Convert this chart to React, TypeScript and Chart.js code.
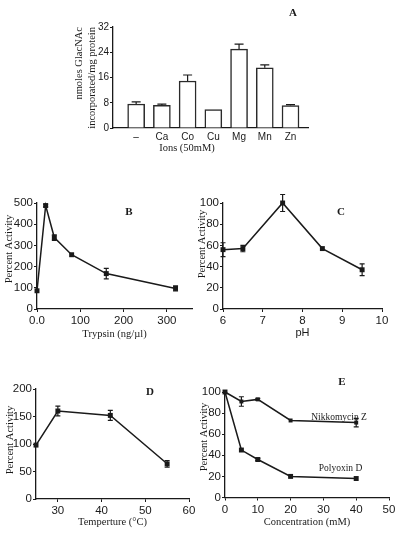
import React, { useEffect, useRef } from "react";
import { Chart, registerables } from "chart.js";

Chart.register(...registerables);

// ---------- Panel A: ions ----------
const ionCategories = ["–", "Ca", "Co", "Cu", "Mg", "Mn", "Zn"];
const ionValues = [7.6, 7.2, 14.9, 5.8, 25.0, 19.1, 7.1];
const ionErrors = [0.7, 0.35, 1.9, 0, 1.6, 0.9, 0.3];

// ---------- Panel B: trypsin ----------
const trypsinDose = [0, 20, 40, 80, 160, 320];
const trypsinActivity = [86, 488, 337, 256, 167, 97];
const trypsinErrors = [0, 6, 13, 0, 25, 12];
const trypsinXTicks = [0, 100, 200, 300];
const trypsinXTickLabels = ["0.0", "100", "200", "300"];

// ---------- Panel C: pH ----------
const phValues = [6, 6.5, 7.5, 8.5, 9.5];
const phActivity = [56, 57, 100, 57, 37];
const phErrors = [6.5, 3, 8, 0, 5.5];

// ---------- Panel D: temperature ----------
const temperatures = [25, 30, 42, 55];
const tempActivity = [98, 160, 152, 64];
const tempErrors = [0, 9, 9, 6];
const tempXTicks = [30, 40, 50, 60];

// ---------- Panel E: inhibitors ----------
const concentrations = [0, 5, 10, 20, 40];
const nikkomycinActivity = [100, 91, 93, 73, 71];
const nikkomycinErrors = [0, 4.5, 1, 0, 4];
const polyoxinActivity = [100, 45, 36, 20, 18];
const polyoxinErrors = [0, 0, 1, 0, 0];

const SANS = "'Liberation Sans', Arial, Helvetica, sans-serif";
const SERIF = "'Liberation Serif', 'Times New Roman', serif";
const INK = "#1a1a1a";

const errorBarPlugin = {
  id: "errorBars",
  afterDatasetsDraw(chart: any) {
    const ctx = chart.ctx;
    const yScale = chart.scales.y;
    chart.data.datasets.forEach((ds: any, di: number) => {
      const errs = ds.errors;
      if (!errs) return;
      const meta = chart.getDatasetMeta(di);
      meta.data.forEach((el: any, i: number) => {
        const e = errs[i];
        if (!e) return;
        const raw = ds.data[i];
        const v = typeof raw === "object" ? raw.y : raw;
        const yTop = yScale.getPixelForValue(v + e);
        const yBot = ds.errorUpOnly ? el.y : yScale.getPixelForValue(v - e);
        const cap = ds.errorCap ?? 2.5;
        ctx.save();
        ctx.strokeStyle = INK;
        ctx.lineWidth = 1.2;
        ctx.beginPath();
        ctx.moveTo(el.x, yTop);
        ctx.lineTo(el.x, yBot);
        ctx.moveTo(el.x - cap, yTop);
        ctx.lineTo(el.x + cap, yTop);
        if (!ds.errorUpOnly) {
          ctx.moveTo(el.x - cap, yBot);
          ctx.lineTo(el.x + cap, yBot);
        }
        ctx.stroke();
        ctx.restore();
      });
    });
  },
};

type TextItem = { text: string; x: number; y: number; font: string; align?: CanvasTextAlign; rotate?: boolean };

function makeTextPlugin(items: TextItem[]) {
  return {
    id: "panelText",
    afterDraw(chart: any) {
      const ctx = chart.ctx;
      items.forEach((it) => {
        ctx.save();
        ctx.font = it.font;
        ctx.fillStyle = INK;
        ctx.textAlign = it.align || "center";
        ctx.textBaseline = "middle";
        ctx.translate(it.x, it.y);
        if (it.rotate) ctx.rotate(-Math.PI / 2);
        ctx.fillText(it.text, 0, 0);
        ctx.restore();
      });
    },
  };
}

type Box = { left: number; top: number; width: number; height: number };
type Plot = { l: number; t: number; r: number; b: number };

function frame(c: Box, p: Plot) {
  return {
    yW: p.l - c.left,
    xH: c.top + c.height - p.b,
    padTop: p.t - c.top,
    padRight: c.left + c.width - p.r,
  };
}

function axisStyle(size: number, drawTicks = true, pad = 1) {
  return {
    grid: {
      display: true,
      drawOnChartArea: false,
      drawTicks,
      tickLength: 3,
      color: INK,
      tickWidth: 1,
      offset: false,
    },
    border: { display: true, color: INK, width: 1.3 },
    ticks: { color: INK, font: { family: SANS, size }, padding: pad },
  };
}

function lineDataset(xs: number[], ys: number[], errs: number[], radius = 3.5) {
  return {
    data: xs.map((x, i) => ({ x, y: ys[i] })),
    errors: errs,
    borderColor: INK,
    borderWidth: 1.5,
    pointStyle: "rect",
    pointRadius: radius,
    pointBackgroundColor: INK,
    pointBorderColor: INK,
    pointBorderWidth: 0,
    tension: 0,
    fill: false,
    clip: false,
  };
}

type LinePanelArgs = {
  canvas: Box;
  plot: Plot;
  datasets: any[];
  xMin: number;
  xMax: number;
  xStep?: number;
  xTicks?: number[];
  xLabel?: (v: number) => string;
  yMin: number;
  yMax: number;
  yStep: number;
  yLabel?: (v: number) => string;
  xTitle: string;
  xTitleFont: { family: string; size: number };
  xTitleCenterY: number;
  yTitle: string;
  yTitleCenter: [number, number];
  texts: TextItem[];
};

function linePanelConfig(a: LinePanelArgs) {
  const f = frame(a.canvas, a.plot);
  const xLH = a.xTitleFont.size * 1.2;
  const xs: any = {
    type: "linear",
    min: a.xMin,
    max: a.xMax,
    offset: false,
    ...axisStyle(11.5, true, 2),
    title: {
      display: true,
      text: a.xTitle,
      color: INK,
      font: { ...a.xTitleFont, lineHeight: 1.2 },
      padding: { top: 0, bottom: Math.max(0, a.canvas.top + a.canvas.height - a.xTitleCenterY - xLH / 2) },
    },
    afterFit: (s: any) => {
      s.height = f.xH;
    },
  };
  xs.ticks = { ...xs.ticks, stepSize: a.xStep, callback: a.xLabel ? (v: any) => a.xLabel!(v) : (v: any) => String(v) };
  if (a.xTicks) {
    const t = a.xTicks;
    xs.afterBuildTicks = (s: any) => {
      s.ticks = t.map((v) => ({ value: v }));
    };
  }
  const ys: any = {
    type: "linear",
    min: a.yMin,
    max: a.yMax,
    ...axisStyle(11.5, true, 1),
    afterFit: (s: any) => {
      s.width = f.yW;
    },
  };
  ys.ticks = { ...ys.ticks, stepSize: a.yStep, callback: a.yLabel ? (v: any) => a.yLabel!(v) : (v: any) => String(v) };
  const texts: TextItem[] = [
    ...a.texts,
    {
      text: a.yTitle,
      x: a.yTitleCenter[0] - a.canvas.left,
      y: a.yTitleCenter[1] - a.canvas.top,
      font: `10.5px ${SERIF}`,
      rotate: true,
    },
  ];
  return {
    type: "line",
    data: { datasets: a.datasets },
    options: {
      responsive: false,
      animation: false,
      events: [],
      layout: { padding: { top: f.padTop, right: f.padRight, left: 0, bottom: 0 } },
      plugins: { legend: { display: false }, tooltip: { enabled: false } },
      scales: { x: xs, y: ys },
    },
    plugins: [errorBarPlugin, makeTextPlugin(texts)],
  };
}

const letterFont = `bold 11px ${SERIF}`;

// ---------- Panel specs ----------
const canvasA: Box = { left: 60, top: 0, width: 260, height: 160 };
const plotA: Plot = { l: 113, t: 27, r: 308, b: 128 };

function configA() {
  const f = frame(canvasA, plotA);
  return {
    type: "bar",
    data: {
      datasets: [
        {
          data: ionValues.map((v, i) => ({ x: i, y: v })),
          errors: ionErrors,
          errorUpOnly: true,
          errorCap: 4.5,
          backgroundColor: "#ffffff",
          borderColor: "#2a2a2a",
          borderWidth: 1.5,
          barThickness: 17,
        },
      ],
    },
    options: {
      responsive: false,
      animation: false,
      events: [],
      layout: { padding: { top: f.padTop, right: f.padRight, left: 0, bottom: 0 } },
      plugins: { legend: { display: false }, tooltip: { enabled: false } },
      scales: {
        x: {
          type: "linear",
          min: -0.9,
          max: 6.68,
          offset: false,
          ...axisStyle(10, false, 3),
          afterBuildTicks: (s: any) => {
            s.ticks = ionCategories.map((_, i) => ({ value: i }));
          },
          afterFit: (s: any) => {
            s.height = f.xH;
          },
          ticks: {
            color: INK,
            font: { family: SANS, size: 10 },
            padding: 3,
            callback: (v: any) => ionCategories[v] ?? "",
          },
        },
        y: {
          type: "linear",
          min: 0,
          max: 32,
          ...axisStyle(10, true, 1),
          ticks: { color: INK, font: { family: SANS, size: 10 }, padding: 1, stepSize: 8 },
          title: {
            display: true,
            text: ["nmoles GlacNAc", "incorporated/mg protein"],
            align: "end",
            color: INK,
            font: { family: SERIF, size: 10.5, lineHeight: "13px" },
            padding: { top: 12.5, bottom: 0 },
          },
          afterFit: (s: any) => {
            s.width = f.yW;
          },
        },
      },
    },
    plugins: [
      errorBarPlugin,
      makeTextPlugin([
        { text: "A", x: 233, y: 13, font: letterFont },
        { text: "Ions (50mM)", x: 127, y: 148, font: `10.5px ${SERIF}` },
      ]),
    ],
  };
}

const canvasB: Box = { left: 0, top: 190, width: 205, height: 151 };
const canvasC: Box = { left: 195, top: 190, width: 210, height: 151 };
const canvasD: Box = { left: 0, top: 370, width: 205, height: 169 };
const canvasE: Box = { left: 195, top: 370, width: 210, height: 169 };

function configB() {
  return linePanelConfig({
    canvas: canvasB,
    plot: { l: 37, t: 203, r: 192, b: 309 },
    datasets: [lineDataset(trypsinDose, trypsinActivity, trypsinErrors)],
    xMin: 0,
    xMax: 358,
    xTicks: trypsinXTicks,
    xLabel: (v) => trypsinXTickLabels[trypsinXTicks.indexOf(v)] ?? "",
    yMin: 0,
    yMax: 500,
    yStep: 100,
    xTitle: "Trypsin (ng/µl)",
    xTitleFont: { family: SERIF, size: 10.5 },
    xTitleCenterY: 334,
    yTitle: "Percent Activity",
    yTitleCenter: [9.5, 249],
    texts: [{ text: "B", x: 129, y: 22, font: letterFont }],
  });
}

function configC() {
  return linePanelConfig({
    canvas: canvasC,
    plot: { l: 223, t: 203, r: 382, b: 309 },
    datasets: [lineDataset(phValues, phActivity, phErrors)],
    xMin: 6,
    xMax: 10,
    xStep: 1,
    yMin: 0,
    yMax: 100,
    yStep: 20,
    xTitle: "pH",
    xTitleFont: { family: SANS, size: 11 },
    xTitleCenterY: 333,
    yTitle: "Percent Activity",
    yTitleCenter: [202.5, 244],
    texts: [{ text: "C", x: 146, y: 22, font: letterFont }],
  });
}

function configD() {
  return linePanelConfig({
    canvas: canvasD,
    plot: { l: 36, t: 389, r: 189, b: 499 },
    datasets: [lineDataset(temperatures, tempActivity, tempErrors)],
    xMin: 25,
    xMax: 60,
    xTicks: tempXTicks,
    yMin: 0,
    yMax: 200,
    yStep: 25,
    yLabel: (v) => (v % 50 === 0 ? String(v) : ""),
    xTitle: "Temperture (°C)",
    xTitleFont: { family: SERIF, size: 10.5 },
    xTitleCenterY: 522,
    yTitle: "Percent Activity",
    yTitleCenter: [10, 440],
    texts: [{ text: "D", x: 150, y: 22, font: letterFont }],
  });
}

function configE() {
  return linePanelConfig({
    canvas: canvasE,
    plot: { l: 225, t: 392, r: 389, b: 497.5 },
    datasets: [
      lineDataset(concentrations, nikkomycinActivity, nikkomycinErrors, 2.8),
      lineDataset(concentrations, polyoxinActivity, polyoxinErrors, 3.5),
    ],
    xMin: 0,
    xMax: 50,
    xStep: 10,
    yMin: 0,
    yMax: 100,
    yStep: 20,
    xTitle: "Concentration (mM)",
    xTitleFont: { family: SERIF, size: 10.5 },
    xTitleCenterY: 522,
    yTitle: "Percent Activity",
    yTitleCenter: [204, 437],
    texts: [
      { text: "E", x: 147, y: 12, font: letterFont },
      { text: "Nikkomycin Z", x: 144, y: 47, font: `9.5px ${SERIF}` },
      { text: "Polyoxin D", x: 145.5, y: 98, font: `9.5px ${SERIF}` },
    ],
  });
}

function ChartPanel({ box, build }: { box: Box; build: () => any }) {
  const ref = useRef<HTMLCanvasElement>(null);
  useEffect(() => {
    const chart = new Chart(ref.current as HTMLCanvasElement, build());
    return () => chart.destroy();
  }, []);
  return (
    <canvas
      ref={ref}
      width={box.width}
      height={box.height}
      style={{ position: "absolute", left: box.left, top: box.top, width: box.width, height: box.height }}
    />
  );
}

export default function App() {
  return (
    <div
      style={{
        position: "fixed",
        left: 0,
        top: 0,
        width: 405,
        height: 539,
        background: "#ffffff",
        overflow: "hidden",
      }}
    >
      <ChartPanel box={canvasA} build={configA} />
      <ChartPanel box={canvasB} build={configB} />
      <ChartPanel box={canvasC} build={configC} />
      <ChartPanel box={canvasD} build={configD} />
      <ChartPanel box={canvasE} build={configE} />
    </div>
  );
}
